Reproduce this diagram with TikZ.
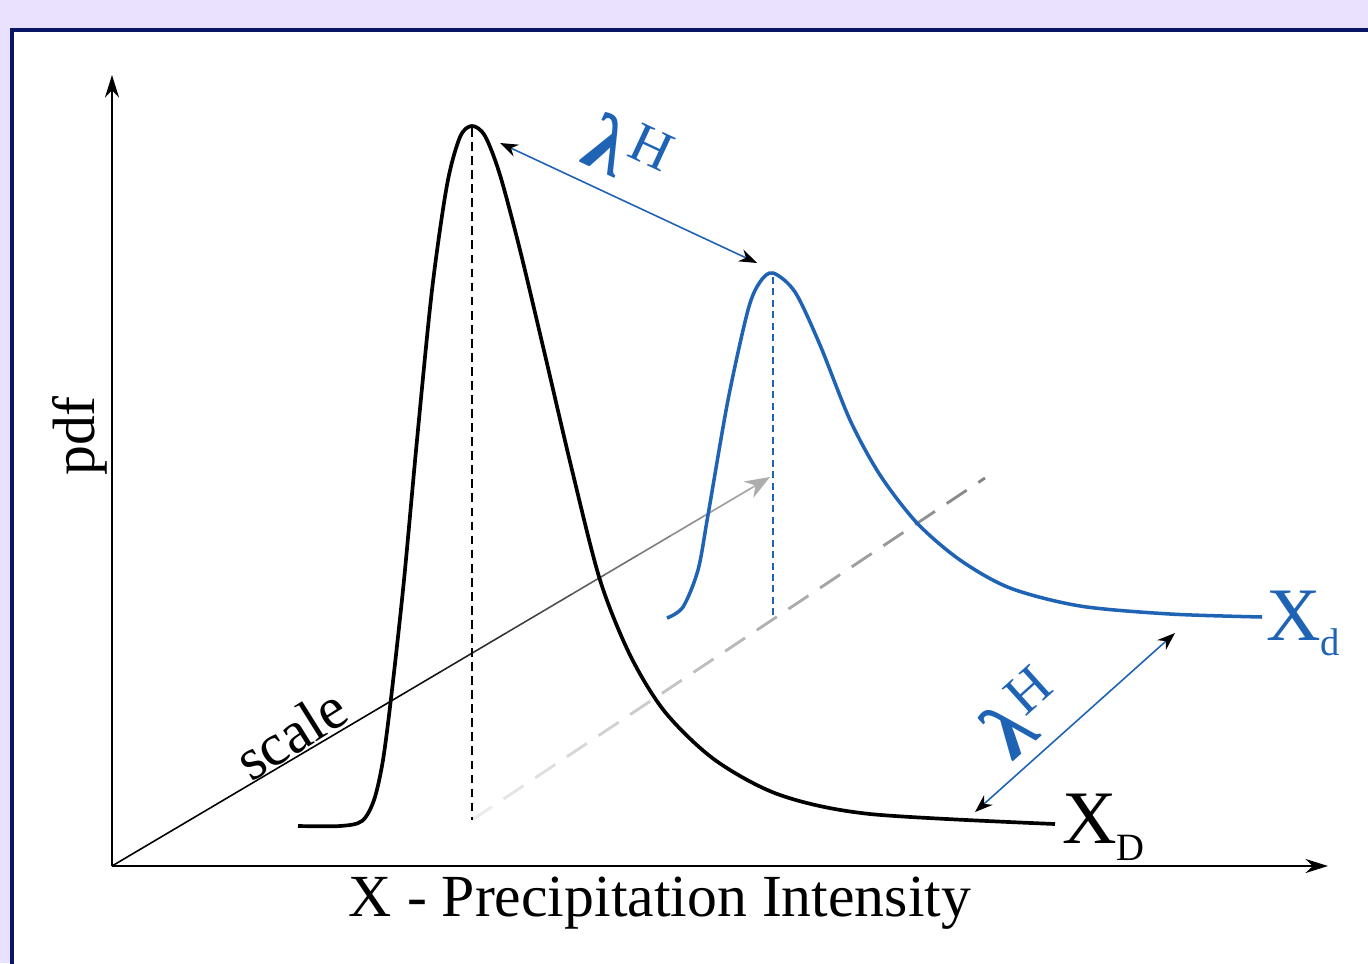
\documentclass[tikz,border=0pt]{standalone}
\usepackage{fontspec}
\setmainfont{Liberation Serif}
\usetikzlibrary{arrows.meta,calc}
\definecolor{pdfblue}{HTML}{1F63B5}
\definecolor{framenavy}{HTML}{0B1565}
\definecolor{panellav}{HTML}{E9E1FF}

\begin{document}
\begin{tikzpicture}[x=0.02cm,y=-0.02cm,
  axis/.style={line width=1.4pt,-{Stealth[length=0.45cm,width=0.28cm]}},
  lambdarrow/.style={pdfblue,line width=0.9pt,
    {Stealth[black,length=0.36cm,width=0.26cm]}-{Stealth[black,length=0.36cm,width=0.26cm]}},
  lbl/.style={font=\fontsize{34}{40}\selectfont},
  lamlbl/.style={pdfblue,inner sep=0pt}]
\clip (0,0) rectangle (1368,963);
\fill[panellav] (0,0) rectangle (1368,963);
\draw[framenavy,line width=0.08cm,fill=white] (12,30) rectangle (1420,1010);

% axes
\coordinate (O) at (112,866);
\coordinate (ytip) at (112,75);
\coordinate (xtip) at (1328,866);
\draw[axis] (O) -- (ytip);
\draw[axis] (O) -- (xtip);
\node[lbl] (xlab) at (660,903) {X - Precipitation Intensity};
\node[lbl,rotate=90] (ylab) at (80,436) {pdf};

% scale axis, fading out
\coordinate (sc) at (770,477);
\foreach \i in {0,...,19}{
  \pgfmathsetmacro\shade{min(100,150-120*(\i+0.5)/20)}
  \draw[black!\shade,line width=0.9pt] ($(O)!{\i/20}!(sc)$) -- ($(O)!{min(0.97,(\i+1)/20)}!(sc)$);
}
\draw[black!32,line width=0.9pt,-{Stealth[length=0.5cm,width=0.38cm]}] ($(O)!0.95!(sc)$) -- (sc);
\node[lbl,rotate=32] (scalelab) at (291,734) {scale};

% shifted baseline (dashed, fading in)
\coordinate (Dbase) at (472,820);
\coordinate (dend) at (985,478);
\foreach \i in {0,...,16}{
  \pgfmathsetmacro\shade{8+40*\i/16}
  \draw[black!\shade,line width=1.6pt] ($(Dbase)!{\i*38/616}!(dend)$) -- ($(Dbase)!{min(1,(\i*38+24)/616)}!(dend)$);
}

% present-day pdf
\coordinate (Dpk) at (472,128);
\draw[line width=1.2pt,dash pattern=on 5pt off 3pt] (Dpk) -- (Dbase);
\draw[line width=2.1pt] plot[smooth] coordinates {(298,826) (340,826) (362,821) (374,800) (383,760)
  (392,690) (404,580) (417,440) (432,290) (447,185) (460,137) (472,126) (485,136) (500,175)
  (520,250) (545,355) (572,470) (600,580) (630,655) (665,712) (715,760) (780,795) (870,814)
  (1055,824)};
\node[anchor=base west,inner sep=0pt] (XD) at (1062,843)
  {\fontsize{43}{48}\selectfont X\raisebox{-0.34cm}{\fontsize{22}{28}\selectfont D}};

% future pdf
\coordinate (dpk) at (773,277);
\coordinate (dbase) at (773,618);
\draw[pdfblue,line width=1.2pt,dash pattern=on 4pt off 2.5pt] (dpk) -- (dbase);
\draw[pdfblue,line width=2pt] plot[smooth] coordinates {(667,618) (683,607) (698,570) (708,515)
  (728,400) (748,310) (760,282) (773,273) (795,292) (820,345) (850,420) (880,475)
  (917,523) (960,560) (1010,588) (1080,606) (1170,614) (1262,617)};
\node[anchor=base west,inner sep=0pt,pdfblue] (Xd) at (1266,640)
  {\fontsize{43}{48}\selectfont X\raisebox{-0.3cm}{\fontsize{22}{28}\selectfont d}};

% scaling factors
\coordinate (la1) at (500,143);
\coordinate (la2) at (757,263);
\coordinate (lb1) at (975,812);
\coordinate (lb2) at (1175,633);
\draw[lambdarrow] (la1) -- (la2);
\draw[lambdarrow] (lb1) -- (lb2);
\node[lamlbl,rotate=-25] (lamtop) at (628,150)
  {\fontsize{46}{50}\selectfont\bfseries λ\raisebox{0.5cm}{\mdseries\fontsize{32}{36}\selectfont H}};
\node[lamlbl,rotate=42] (lambot) at (1022,713)
  {\fontsize{46}{50}\selectfont\bfseries λ\raisebox{0.5cm}{\mdseries\fontsize{32}{36}\selectfont H}};
\end{tikzpicture}
\end{document}
